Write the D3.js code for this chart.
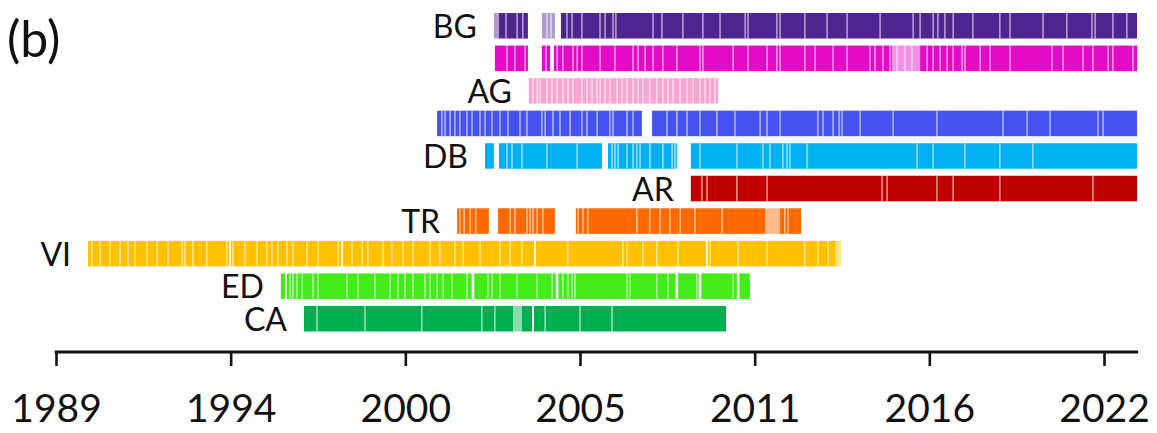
<!DOCTYPE html>
<html><head><meta charset="utf-8">
<script src="https://cdn.jsdelivr.net/npm/d3@7"></script>
<style>html,body{margin:0;padding:0;background:#fff;} svg{display:block;}</style>
</head><body><svg id="c" width="1157" height="433"></svg>
<script>
// ---- data ----
const rowIds    = ["BG", "BG2", "AG", "AG2", "DB", "AR", "TR", "VI", "ED", "CA"];
const rowLabels = ["BG", "",    "AG", "",    "DB", "AR", "TR", "VI", "ED", "CA"];
const rowColors = ["#50248f", "#e40bc8", "#f8a6d0", "#4552ef", "#00b0f0", "#c00000", "#ff6700", "#ffc000", "#42ec19", "#00b050"];

const tickValues = [1989, 1994.5, 2000, 2005.5, 2011, 2016.5, 2022];
const tickLabels = ["1989", "1994", "2000", "2005", "2011", "2016", "2022"];
const axisExtent = [1989, 2023.07];

// full-coverage periods [start, end] (decimal years)
const segBG  = [[2002.95, 2003.86], [2004.90, 2023.04]];
const segBG2 = [[2002.82, 2003.86], [2004.30, 2004.56], [2004.68, 2015.32], [2016.21, 2023.04]];
const segAG  = [[2003.89, 2009.85]];
const segAG2 = [[2001.00, 2007.45], [2007.77, 2023.04]];
const segDB  = [[2002.51, 2002.79], [2002.95, 2006.19], [2006.38, 2008.55], [2008.99, 2023.04]];
const segAR  = [[2008.99, 2023.04]];
const segTR  = [[2001.63, 2002.63], [2002.92, 2004.71], [2005.37, 2011.33], [2011.80, 2012.46]];
const segVI  = [[1990.01, 1994.45], [1994.51, 1997.98], [1998.04, 2004.05], [2004.11, 2009.47], [2009.53, 2013.55]];
const segED  = [[1996.08, 1996.21], [1996.27, 2002.09], [2002.17, 2004.74], [2004.82, 2008.51], [2008.59, 2009.24], [2009.32, 2010.44], [2010.52, 2010.85]];
const segCA  = [[1996.81, 2003.39], [2003.67, 2003.99], [2004.05, 2010.10]];

// partial-coverage periods (lighter)
const partBG  = [[2002.79, 2002.95], [2004.30, 2004.71]];
const partBG2 = [[2015.32, 2016.21]];
const partTR  = [[2011.33, 2011.80]];
const partVI  = [[2013.55, 2013.72]];
const partCA  = [[2003.39, 2003.67]];

// single missing dates (thin white lines)
const gapBG  = [2003.17, 2003.52, 2003.70, 2004.46, 2004.59, 2005.09, 2005.25, 2005.56, 2006.13, 2006.29, 2006.54, 2006.63, 2007.80, 2008.08, 2008.74, 2009.37, 2009.91, 2010.70, 2010.79, 2011.70, 2011.80, 2012.58, 2013.28, 2013.91, 2014.95, 2015.99, 2016.21, 2016.62, 2016.77, 2016.99, 2017.25, 2017.87, 2018.72, 2019.04, 2020.08, 2020.83, 2021.62, 2021.72, 2022.28, 2022.72];
const gapBG2 = [2003.20, 2003.45, 2003.77, 2004.43, 2004.78, 2004.96, 2005.28, 2005.41, 2005.56, 2006.13, 2006.60, 2007.17, 2007.33, 2007.55, 2007.80, 2008.11, 2008.55, 2009.28, 2009.37, 2010.32, 2010.79, 2011.39, 2011.70, 2011.80, 2012.58, 2012.90, 2013.47, 2013.91, 2014.63, 2014.79, 2015.04, 2015.26, 2015.48, 2015.73, 2015.95, 2016.43, 2016.62, 2016.84, 2017.06, 2017.25, 2017.53, 2017.62, 2018.10, 2018.41, 2019.04, 2020.36, 2020.71, 2021.34, 2021.65, 2022.13, 2022.28, 2022.91];
const gapAG  = [2004.02, 2004.15, 2004.24, 2004.46, 2004.62, 2004.78, 2004.96, 2005.12, 2005.28, 2005.56, 2005.72, 2005.88, 2006.04, 2006.13, 2006.29, 2006.44, 2006.67, 2006.82, 2006.98, 2007.17, 2007.33, 2007.48, 2007.70, 2007.92, 2008.11, 2008.27, 2008.43, 2008.65, 2008.87, 2009.06, 2009.28, 2009.44, 2009.59, 2009.75];
const gapAG2 = [2001.15, 2001.25, 2001.41, 2001.56, 2001.72, 2001.94, 2002.10, 2002.35, 2002.51, 2002.73, 2002.98, 2003.23, 2003.61, 2003.83, 2004.30, 2004.40, 2004.65, 2004.87, 2005.19, 2005.56, 2005.72, 2006.04, 2006.44, 2006.54, 2006.98, 2007.17, 2008.24, 2008.55, 2008.87, 2009.28, 2009.81, 2010.38, 2011.17, 2011.39, 2011.80, 2012.99, 2013.15, 2013.47, 2013.66, 2013.75, 2014.32, 2015.36, 2016.74, 2018.82, 2019.58, 2020.30, 2021.81, 2021.97];
const gapDB  = [2003.20, 2003.36, 2003.67, 2004.46, 2005.41, 2006.51, 2006.60, 2006.70, 2006.98, 2007.17, 2007.29, 2007.39, 2007.70, 2008.11, 2008.40, 2008.49, 2009.28, 2010.44, 2011.26, 2011.48, 2011.89, 2012.02, 2012.11, 2012.65, 2016.11, 2016.62, 2017.62, 2018.72, 2019.76];
const gapAR  = [2009.34, 2009.50, 2010.44, 2011.39, 2015.01, 2015.17, 2016.74, 2017.25, 2018.72, 2021.65];
const gapTR  = [2001.72, 2001.85, 2002.04, 2002.22, 2003.30, 2003.45, 2003.83, 2003.93, 2004.02, 2004.15, 2004.33, 2005.44, 2005.59, 2005.75, 2007.29, 2007.70, 2008.02, 2008.33, 2008.65, 2009.12, 2009.97, 2011.95, 2012.05];
const gapVI  = [1990.13, 1990.39, 1990.70, 1991.02, 1991.27, 1991.49, 1991.87, 1992.18, 1992.53, 1992.97, 1993.06, 1993.31, 1993.75, 1994.38, 1994.57, 1994.95, 1995.33, 1995.64, 1995.80, 1995.99, 1996.27, 1996.46, 1996.90, 1997.25, 1997.88, 1998.32, 1998.64, 1998.82, 1999.30, 1999.58, 1999.93, 2000.24, 2000.78, 2001.09, 2001.56, 2001.82, 2002.35, 2002.98, 2003.30, 2003.67, 2005.12, 2006.85, 2006.98, 2007.48, 2007.92, 2008.59, 2009.59, 2010.48, 2011.39, 2012.58, 2012.99, 2013.31];
const gapED  = [1996.37, 1996.46, 1996.59, 1996.75, 1997.09, 1997.25, 1998.16, 1998.51, 1999.04, 1999.52, 1999.77, 1999.99, 2000.24, 2000.62, 2000.78, 2001.00, 2001.19, 2001.47, 2001.94, 2002.60, 2002.73, 2002.98, 2003.52, 2004.15, 2004.62, 2004.96, 2005.12, 2005.25, 2005.34, 2006.98, 2007.07, 2007.92, 2008.27, 2009.18, 2010.32];
const gapCA  = [1997.22, 1998.73, 2000.52, 2002.41, 2002.82, 2004.40, 2005.50, 2006.51];

const segments = [segBG, segBG2, segAG, segAG2, segDB, segAR, segTR, segVI, segED, segCA];
const partials = [partBG, partBG2, [], [], [], [], partTR, partVI, [], partCA];
const gaps     = [gapBG, gapBG2, gapAG, gapAG2, gapDB, gapAR, gapTR, gapVI, gapED, gapCA];

// ---- drawing ----
const svg = d3.select("#c");
const FONT = "Lato, 'Open Sans', sans-serif";

const x = d3.scaleLinear().domain([1989, 2022]).range([56, 1104]);
const y = d3.scaleBand().domain(rowIds).range([9.5, 335]).paddingInner(0.216).paddingOuter(0.108);
const bw = y.bandwidth();

const rows = rowIds.map((id, i) => ({
  id, label: rowLabels[i], color: rowColors[i],
  segs: segments[i], parts: partials[i], gaps: gaps[i]
}));

const rg = svg.selectAll("g.row").data(rows).join("g").attr("class", "row");

rg.selectAll("rect.seg").data(d => d.segs.map(s => ({s, d}))).join("rect")
  .attr("class", "seg")
  .attr("x", o => x(o.s[0])).attr("width", o => x(o.s[1]) - x(o.s[0]))
  .attr("y", o => y(o.d.id)).attr("height", bw)
  .attr("fill", o => o.d.color);

rg.selectAll("rect.part").data(d => d.parts.map(s => ({s, d}))).join("rect")
  .attr("class", "part")
  .attr("x", o => x(o.s[0])).attr("width", o => x(o.s[1]) - x(o.s[0]))
  .attr("y", o => y(o.d.id)).attr("height", bw)
  .attr("fill", o => o.d.color).attr("fill-opacity", 0.45);

rg.selectAll("line.gap").data(d => d.gaps.map(v => ({v, d}))).join("line")
  .attr("class", "gap")
  .attr("x1", o => x(o.v)).attr("x2", o => x(o.v))
  .attr("y1", o => y(o.d.id)).attr("y2", o => y(o.d.id) + bw)
  .attr("stroke", "#fff").attr("stroke-width", 1.5).attr("stroke-opacity", 0.6);

rg.filter(d => d.label).append("text")
  .attr("x", d => x(d3.min(d.segs.concat(d.parts), s => s[0])) - 17)
  .attr("y", d => y(d.id) + bw - 0.5)
  .attr("text-anchor", "end")
  .attr("font-family", FONT).attr("font-size", 32).attr("fill", "#111")
  .text(d => d.label);

// axis
const ax = svg.append("g").attr("transform", "translate(0,352)");
ax.call(d3.axisBottom(x).tickValues(tickValues).tickFormat((d, i) => tickLabels[i]).tickSize(14).tickSizeOuter(0));
ax.select(".domain").remove();
ax.selectAll(".tick line").attr("stroke", "#111").attr("stroke-width", 2.6);
ax.selectAll(".tick text").attr("y", 70).attr("dy", null)
  .attr("font-family", FONT).attr("font-size", 39).attr("fill", "#111");
ax.append("line").attr("x1", x(axisExtent[0]) - 1.3).attr("x2", x(axisExtent[1]))
  .attr("y1", 0).attr("y2", 0).attr("stroke", "#111").attr("stroke-width", 2.8);

// panel tag
svg.append("text").attr("x", 7).attr("y", 57)
  .attr("font-family", FONT).attr("font-size", 50).attr("fill", "#111").text("(b)");
</script>
</body></html>
